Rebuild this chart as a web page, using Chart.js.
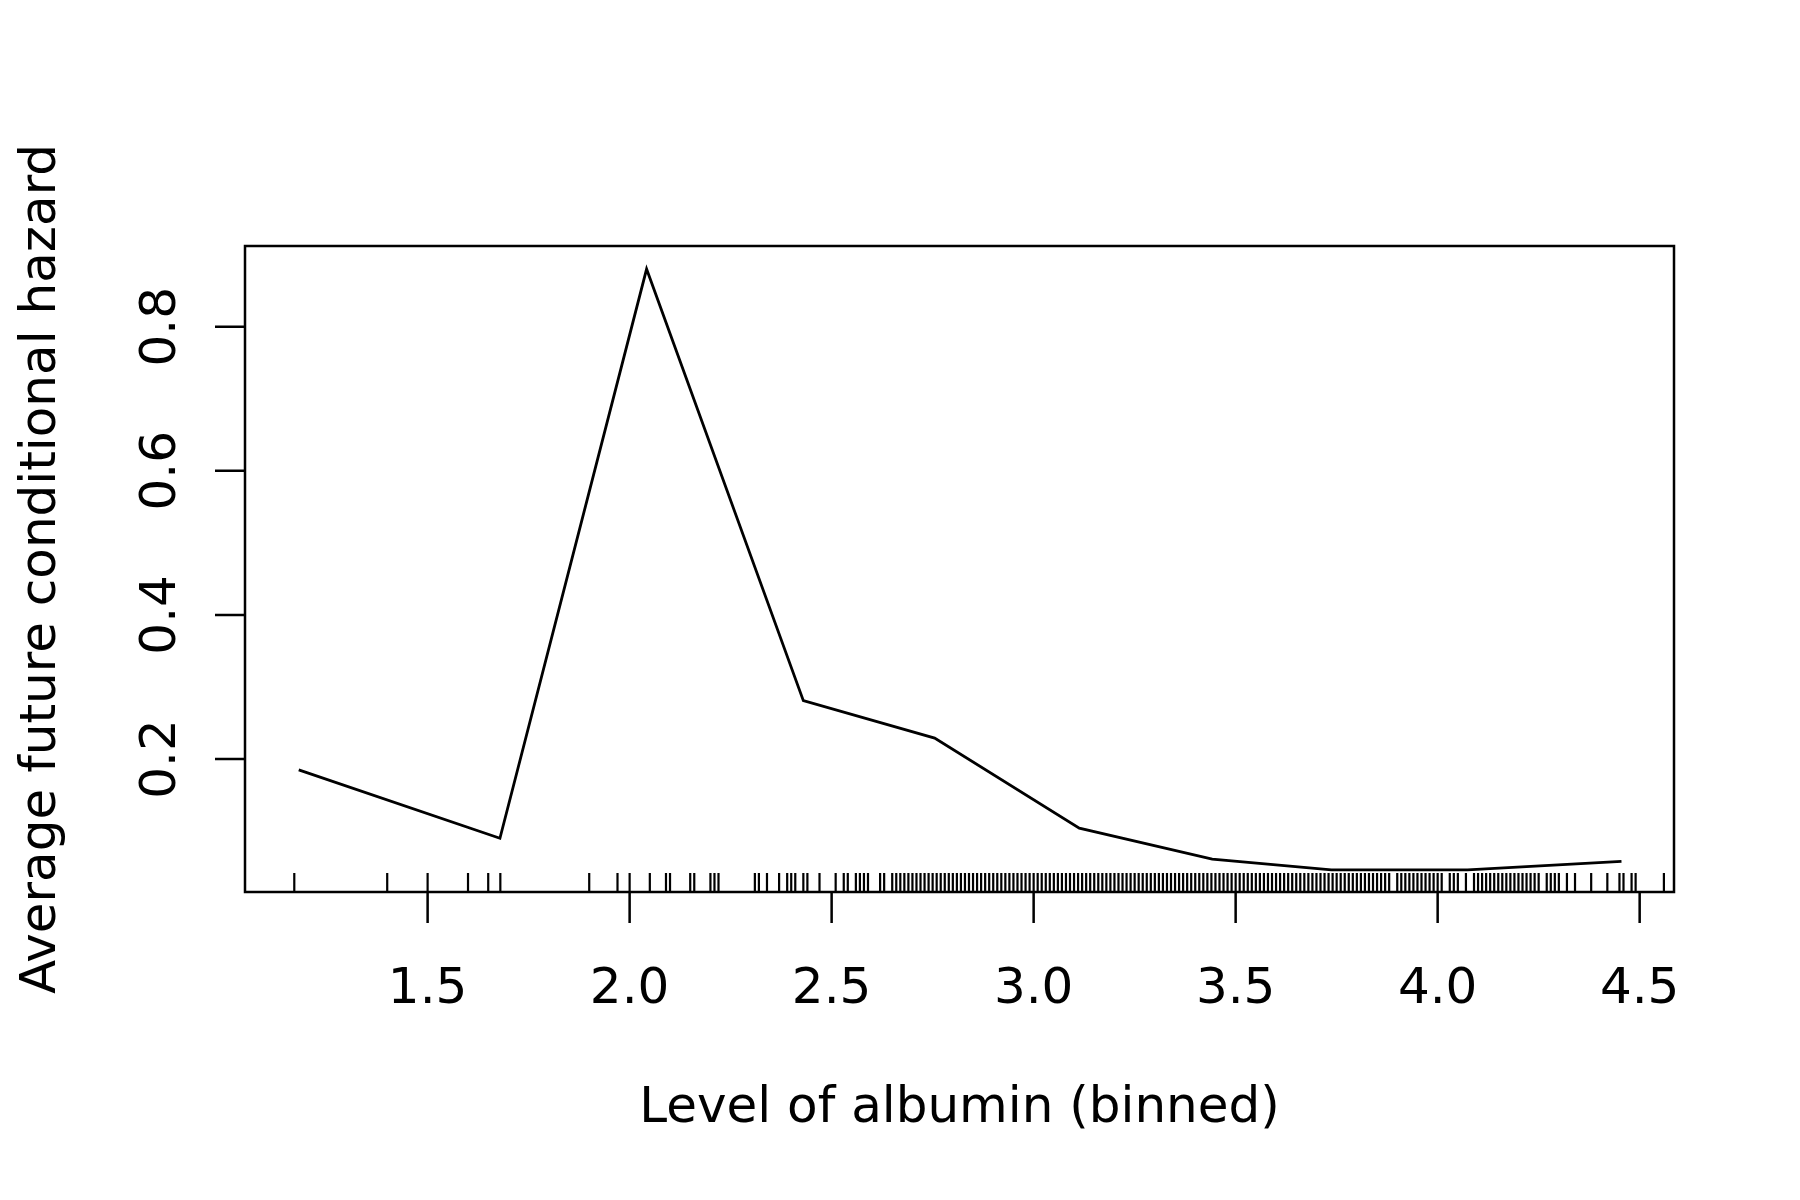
<!DOCTYPE html>
<html>
<head>
<meta charset="utf-8">
<script src="https://cdn.jsdelivr.net/npm/chart.js@4"></script>
<style>
  html, body { margin: 0; padding: 0; background: #fff; }
  canvas { display: block; }
</style>
</head>
<body>
<canvas id="hazardChart" width="1800" height="1200"></canvas>
<script>
// binned albumin levels and average future conditional hazard
const albuminBins = [1.181, 1.679, 2.042, 2.430, 2.755, 3.113, 3.442, 3.737, 4.074, 4.455];
const hazard = [0.185, 0.090, 0.880, 0.281, 0.229, 0.104, 0.061, 0.046, 0.046, 0.058];

const xTicks = [1.5, 2.0, 2.5, 3.0, 3.5, 4.0, 4.5];
const yTicks = [0.2, 0.4, 0.6, 0.8];

// observed albumin values (rug)
const rugValues = [
  1.17, 1.40, 1.50, 1.60, 1.65, 1.68, 1.90, 1.97, 2.00, 2.05,
  2.09, 2.10, 2.15, 2.16, 2.20, 2.21, 2.22, 2.31, 2.32, 2.34,
  2.37, 2.39, 2.40, 2.41, 2.43, 2.44, 2.47, 2.51, 2.53, 2.54,
  2.56, 2.57, 2.58, 2.59, 2.62, 2.63,
  2.65, 2.66, 2.67, 2.68, 2.69, 2.70, 2.71, 2.72, 2.73, 2.74,
  2.75, 2.76, 2.77, 2.78, 2.79, 2.80, 2.81, 2.82, 2.83, 2.84,
  2.85, 2.86, 2.87, 2.88, 2.89, 2.90, 2.91, 2.92, 2.93, 2.94,
  2.95, 2.96, 2.97, 2.98, 2.99, 3.00, 3.01, 3.02, 3.03, 3.04,
  3.05, 3.06, 3.07, 3.08, 3.09, 3.10, 3.11, 3.12, 3.13, 3.14,
  3.15, 3.16, 3.17, 3.18, 3.19, 3.20, 3.21, 3.22, 3.23, 3.24,
  3.25, 3.26, 3.27, 3.28, 3.29, 3.30, 3.31, 3.32, 3.33, 3.34,
  3.35, 3.36, 3.37, 3.38, 3.39, 3.40, 3.41, 3.42, 3.43, 3.44,
  3.45, 3.46, 3.47, 3.48, 3.49, 3.50, 3.51, 3.52, 3.53, 3.54,
  3.55, 3.56, 3.57, 3.58, 3.59, 3.60, 3.61, 3.62, 3.63, 3.64,
  3.65, 3.66, 3.67, 3.68, 3.69, 3.70, 3.71, 3.72, 3.73, 3.74,
  3.75, 3.76, 3.77, 3.78, 3.79, 3.80, 3.81, 3.82, 3.83, 3.84,
  3.85, 3.86, 3.87, 3.88,
  3.90, 3.91, 3.92, 3.93, 3.94, 3.95, 3.96, 3.97, 3.98, 3.99,
  4.00, 4.01, 4.03, 4.04, 4.05, 4.07,
  4.09, 4.10, 4.11, 4.12, 4.13, 4.14, 4.15, 4.16, 4.17, 4.18,
  4.19, 4.20, 4.21, 4.22, 4.23, 4.24,
  4.25, 4.27, 4.28, 4.29, 4.30, 4.32, 4.34, 4.38, 4.42, 4.45,
  4.46, 4.48, 4.49, 4.56
];

const xTitle = "Level of albumin (binned)";
const yTitle = "Average future conditional hazard";
const FONT = "50px 'DejaVu Sans'";

// draws the R-style box, ticks, labels and rug
const baseAxes = {
  id: "baseAxes",
  afterDatasetsDraw(chart) {
    const ctx = chart.ctx;
    const area = chart.chartArea;
    const xs = chart.scales.x;
    const ys = chart.scales.y;
    ctx.save();
    ctx.strokeStyle = "#000";
    ctx.fillStyle = "#000";

    // rug
    ctx.lineWidth = 2.2;
    ctx.beginPath();
    rugValues.forEach(v => {
      let px = xs.getPixelForValue(v);
      ctx.moveTo(px, area.bottom);
      ctx.lineTo(px, area.bottom - 19);
    });
    ctx.stroke();

    // box
    ctx.lineWidth = 2.5;
    ctx.strokeRect(area.left, area.top, area.right - area.left, area.bottom - area.top);

    // x ticks
    ctx.font = FONT;
    ctx.textAlign = "center";
    ctx.textBaseline = "alphabetic";
    ctx.beginPath();
    xTicks.forEach(v => {
      let px = xs.getPixelForValue(v);
      ctx.moveTo(px, area.bottom);
      ctx.lineTo(px, area.bottom + 31);
    });
    ctx.stroke();
    xTicks.forEach(v => {
      ctx.fillText(v.toFixed(1), xs.getPixelForValue(v), 1003);
    });

    // y ticks
    ctx.beginPath();
    yTicks.forEach(v => {
      let py = ys.getPixelForValue(v);
      ctx.moveTo(area.left, py);
      ctx.lineTo(area.left - 30, py);
    });
    ctx.stroke();
    yTicks.forEach(v => {
      ctx.save();
      ctx.translate(175, ys.getPixelForValue(v));
      ctx.rotate(-Math.PI / 2);
      ctx.fillText(v.toFixed(1), 0, 0);
      ctx.restore();
    });

    // titles
    ctx.fillText(xTitle, (area.left + area.right) / 2, 1122);
    ctx.save();
    ctx.translate(55, (area.top + area.bottom) / 2);
    ctx.rotate(-Math.PI / 2);
    ctx.fillText(yTitle, 0, 0);
    ctx.restore();

    ctx.restore();
  }
};

const chart = new Chart(document.getElementById("hazardChart"), {
  type: "scatter",
  data: {
    datasets: [{
      data: albuminBins.map((x, i) => ({ x: x, y: hazard[i] })),
      showLine: true,
      borderColor: "#000",
      borderWidth: 2.8,
      pointRadius: 0,
      tension: 0
    }]
  },
  options: {
    responsive: false,
    devicePixelRatio: 1,
    animation: false,
    layout: { padding: { left: 245, right: 126, top: 246, bottom: 308 } },
    scales: {
      x: { type: "linear", min: 1.048, max: 4.585, display: false },
      y: { type: "linear", min: 0.0154, max: 0.912, display: false }
    },
    plugins: { legend: { display: false }, tooltip: { enabled: false } }
  },
  plugins: [baseAxes]
});
</script>
</body>
</html>
